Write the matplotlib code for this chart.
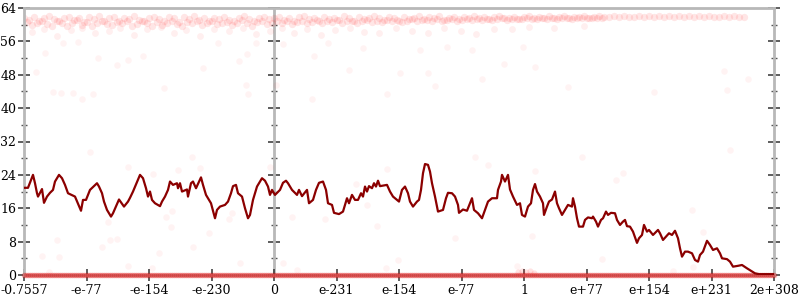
import numpy as np
import matplotlib
matplotlib.use("Agg")
import matplotlib.pyplot as plt

# x axis is sample position (0..750), labelled with float ranges
tick_pos = np.arange(13) * 62.5
tick_labels = ["-0.7557", "-e-77", "-e-154", "-e-230", "0", "e-231", "e-154",
               "e-77", "1", "e+77", "e+154", "e+231", "2e+308"]
y_ticks = [0, 8, 16, 24, 32, 40, 48, 56, 64]

# running average (dark line)
line_x = [0, 4, 9, 11, 13, 14, 18, 20, 23, 26, 29, 31, 35, 38, 41, 44, 51, 57, 59, 62,
          66, 73, 75, 78, 80, 83, 87, 89, 95, 100, 104, 106, 109, 116, 119, 122, 124, 126,
          128, 131, 136, 138, 141, 144, 146, 149, 153, 154, 156, 158, 163, 164, 167, 169,
          172, 177, 179, 182, 187, 191, 193, 196, 201, 204, 207, 209, 212, 214, 218, 221,
          224, 226, 229, 233, 238, 241, 244, 246, 248, 250,
          251, 256, 259, 262, 264, 268, 273, 275, 278, 283, 285, 289, 292, 295, 299, 302,
          304, 308, 310, 315, 319, 321, 323, 325, 328, 331, 334, 337, 339, 341, 343, 345,
          348, 350, 352, 354, 356, 363, 366, 369, 375,
          378, 381, 384, 386, 389, 393, 395, 397, 399, 401, 404, 406, 408, 411, 414, 419,
          422, 424, 428, 431, 434, 435, 439, 443, 446, 448, 450, 454, 458, 461, 464, 468,
          473, 474, 477, 478, 481, 484, 486, 489, 493, 496, 498, 501,
          504, 507, 509, 511, 513, 516, 519, 520, 523, 525, 528, 531, 533, 535, 538, 541,
          544, 548, 549, 551, 553, 555, 559, 561, 564, 568, 569, 572, 574, 577, 579, 582,
          584, 587, 591, 593, 596, 599, 601, 603, 606, 609, 613, 615, 618, 620, 623, 625,
          629, 634, 636, 639, 642, 645, 648, 651, 654, 656, 658, 661, 664, 668, 671, 674,
          676, 679, 683, 686, 689, 693, 696, 698, 703, 706, 709, 714, 718, 723, 727, 731,
          735, 750]
line_y = [20.9, 20.9, 24.0, 22.0, 19.6, 18.8, 20.6, 17.3, 18.8, 19.7, 20.4, 22.4, 24.0, 23.2,
          21.6, 19.6, 18.8, 15.4, 18.0, 18.0, 20.4, 22.0, 21.2, 19.6, 17.6, 15.6, 14.0, 14.8,
          18.1, 16.4, 17.6, 18.5, 20.0, 24.0, 23.2, 20.8, 18.8, 20.0,
          18.0, 17.2, 16.5, 17.6, 18.8, 20.4, 22.4, 21.6, 22.0, 20.8, 22.0, 20.0, 20.5, 18.8,
          22.0, 22.4, 20.8, 23.4, 21.6, 19.2, 17.2, 13.6, 15.6, 16.4, 16.8, 17.6, 19.6, 21.3,
          21.6, 19.6, 18.8, 16.0, 13.6, 14.4, 18.0, 21.2, 23.2, 22.6, 21.2, 19.2, 20.4, 19.6,
          19.2, 20.4, 22.1, 22.6, 22.0, 20.4, 19.2, 20.4, 18.9, 20.4, 17.2, 18.0, 20.4, 22.1,
          22.4, 20.4, 17.2, 16.8, 14.9, 14.6, 15.2, 16.8, 18.4, 17.2, 19.2, 18.0, 18.0, 19.6,
          18.8, 21.2, 20.0, 21.3, 20.8, 22.0, 21.2, 22.6, 21.3, 21.6, 20.0, 18.8, 17.6,
          20.4, 21.2, 19.6, 17.6, 16.4, 17.6, 18.0, 20.4, 24.4, 26.6, 26.4, 24.8, 22.0, 18.8,
          15.2, 15.6, 18.4, 19.7, 19.6, 18.8, 16.8, 14.9, 15.7, 15.4, 17.2, 18.4, 15.6, 14.8,
          13.6, 15.6, 17.6, 18.4, 18.4, 20.4, 22.4, 24.0, 22.4, 24.0, 20.5, 18.8, 16.8, 17.2,
          14.4, 14.0,
          16.4, 17.2, 20.4, 21.8, 20.0, 18.8, 17.2, 14.4, 16.4, 17.6, 18.1, 20.0, 17.2, 16.0,
          14.4, 15.6, 16.8, 16.4, 18.4, 16.4, 13.6, 11.6, 11.6, 13.2, 13.8, 13.6, 14.0, 12.8,
          11.6, 13.2, 13.6, 15.2, 14.4, 14.9, 14.8, 13.2, 12.0, 12.8, 13.2, 11.7, 11.6, 10.4,
          7.7, 8.8, 9.6, 12.0, 10.4, 10.8,
          9.6, 10.8, 10.0, 8.4, 9.2, 10.0, 9.6, 10.6, 8.8, 6.4, 4.4, 5.6, 5.6, 5.2, 3.6, 3.2,
          4.8, 5.6, 8.2, 7.2, 6.0, 6.4, 5.2, 4.0, 3.8, 3.2, 2.0, 2.2, 2.4, 1.6, 1.0, 0.4,
          0.2, 0.2]

# dense band of samples near the top
band_top = [61.6, 61.2, 61.8, 60.9, 61.5, 62.0, 61.3, 60.8, 61.7, 61.9,
            61.1, 61.6, 60.7, 61.8, 61.4, 62.1, 61.0, 61.5, 61.9, 60.9,
            61.7, 61.3, 62.0, 61.2, 60.8, 61.6, 61.9, 61.4, 61.0, 61.8,
            61.5, 60.7, 61.9, 61.3, 62.0, 61.1, 61.6, 60.9, 61.7, 61.4,
            61.8, 61.2, 60.8, 61.6, 62.1, 61.4, 61.0, 61.7, 61.9, 61.3,
            61.7, 61.9, 61.2, 61.6, 60.9, 61.8, 62.0, 61.3, 61.5, 61.0,
            61.9, 61.4, 61.7, 61.1, 62.0, 61.6, 60.9, 61.8, 61.3, 61.7,
            62.0, 61.5, 61.2, 61.8, 61.6, 61.0, 61.9, 61.4, 61.7, 62.1,
            61.3, 61.8, 61.6, 62.0, 61.2, 61.7, 61.9, 61.4, 61.8, 61.5,
            62.0, 61.6, 61.9, 61.3, 61.8, 62.1, 61.5, 61.7, 61.9, 61.4,
            61.8, 62.0, 61.6, 61.9, 61.7, 62.1, 61.5, 61.8, 62.0, 61.7,
            61.9, 61.8, 62.1, 61.7, 61.9, 62.0, 61.8, 61.9, 62.1, 61.8,
            62.0, 61.9, 61.8, 62.1, 61.9, 62.0, 61.8, 62.0, 61.9, 62.1,
            61.9, 62.0, 61.8, 62.0, 61.9, 62.1, 61.9, 62.0, 61.8, 61.9,
            62.0, 61.9, 62.0, 61.9, 61.9]
band_mid = [60.6, 59.9, 60.4, 61.0, 60.2, 59.6, 60.8, 60.3, 59.8, 60.5,
            61.1, 60.0, 60.7, 59.7, 60.4, 60.9, 60.1, 59.9, 60.6, 60.3,
            60.8, 59.6, 60.2, 61.0, 60.5, 59.8, 60.7, 60.0, 60.4, 60.9,
            60.2, 59.7, 60.6, 60.3, 61.0, 59.9, 60.5, 60.8, 60.1, 60.4,
            60.7, 60.0, 60.5, 61.1, 60.3, 59.8, 60.6, 60.9, 60.2, 60.5,
            60.8, 60.4, 61.0, 60.1, 60.6, 60.9, 60.3, 60.7, 61.1, 60.5,
            60.9, 60.6, 61.2, 60.4, 60.8, 61.0, 60.5, 60.9, 61.1, 60.7,
            61.0, 60.6, 61.2, 60.8, 61.1, 60.7, 61.0, 61.3, 60.9, 61.1,
            61.2, 60.9, 61.3, 61.0, 61.2, 61.4, 61.0, 61.2, 61.3, 61.1,
            61.3, 61.1, 61.4, 61.2, 61.3, 61.5, 61.2, 61.4, 61.3, 61.4,
            61.5, 61.3, 61.4, 61.6, 61.4, 61.5, 61.3, 61.6, 61.5, 61.4,
            61.6, 61.5, 61.7, 61.5, 61.6, 61.7]
fringe_x = [8, 20, 33, 47, 58, 71, 85, 96, 110, 123, 137, 150, 162, 176, 190, 205, 219,
            232, 246, 258, 270, 283, 297, 311, 326, 340, 355, 372, 388, 404, 420, 437,
            452, 470, 488, 505, 530, 560]
fringe_y = [58.2, 59.0, 57.4, 58.8, 59.3, 57.9, 58.5, 59.1, 57.6, 58.9, 59.4, 58.0, 58.7,
            57.2, 59.0, 58.4, 59.2, 57.8, 58.6, 59.3, 58.1, 59.0, 57.5, 58.8, 59.2, 58.3,
            57.9, 59.1, 58.6, 58.0, 59.3, 58.5, 57.7, 59.0, 58.9, 59.4, 59.2, 59.6]

# scattered outliers
out_x = [21, 12, 74, 93, 104, 119, 179, 215, 223, 29, 37, 49, 69, 58, 140, 222, 224, 39,
         54, 194, 232, 259, 290, 325, 376, 404, 411, 363, 288, 458, 480, 511, 252, 304,
         339, 396, 423, 448, 499, 700, 724, 544, 630, 703,
         66, 104, 129, 168, 176, 154, 246, 33, 18, 35, 25, 78, 86, 93, 104, 135, 142, 148,
         147, 169, 185, 205, 208, 216, 128, 84,
         268, 301, 353, 363, 332, 343, 374, 362, 431, 451, 464, 511, 508, 493, 259, 273,
         558, 599, 592, 668, 679, 578, 706, 669, 649]
out_y = [53.2, 48.7, 52.0, 50.3, 51.5, 52.5, 49.6, 51.3, 53.0, 43.9, 43.6, 43.6, 43.4,
         42.2, 44.8, 45.5, 43.4, 55.6, 55.9, 55.6, 55.6, 55.4, 52.5, 49.1, 48.4, 48.4,
         45.3, 43.4, 42.2, 47.0, 50.6, 49.9, 45.5, 55.6, 54.4, 53.9, 54.6, 53.9, 54.6,
         48.9, 47.0, 45.1, 43.9, 44.3,
         29.5, 25.9, 24.2, 28.3, 25.6, 25.2, 25.9, 8.4, 4.6, 4.3, 0.7, 6.7, 8.4, 8.6, 2.2,
         5.3, 13.9, 15.3, 11.5, 6.7, 10.1, 13.4, 14.9, 2.9, 1.7, 12.7,
         13.9, 13.4, 11.7, 25.4, 21.8, 16.8, 3.6, 1.7, 8.9, 28.3, 26.4, 24.9, 9.3, 2.2,
         2.9, 1.2, 28.3, 24.4, 22.8, 15.6, 10.3, 3.8, 30.0, 1.9, 1.0]

# samples at zero, plus a few just above zero near "1"
zero_x = np.arange(0, 751, 2)
near_zero_x = [494, 498, 502, 506, 510]
near_zero_y = [0.6, 0.9, 0.7, 1.0, 0.5]

plt.rcParams["font.family"] = "DejaVu Serif"

fig = plt.figure(figsize=(8, 3), dpi=100)
ax = fig.add_axes([24 / 800, 25 / 300, 750 / 800, 267 / 300])

dot = "#ff2020"
ax.scatter(np.arange(len(band_top)) * 5, band_top, s=28, color=dot, alpha=0.11,
           linewidths=0, zorder=2)
ax.scatter(np.arange(len(band_mid)) * 5 + 2.5, band_mid, s=28, color=dot, alpha=0.11,
           linewidths=0, zorder=2)
ax.scatter(fringe_x, fringe_y, s=24, color=dot, alpha=0.07, linewidths=0, zorder=2)
ax.scatter(out_x, out_y, s=22, color=dot, alpha=0.05, linewidths=0, zorder=2)
ax.scatter(zero_x, np.zeros(len(zero_x)), s=16, color="#e01818", alpha=0.35,
           linewidths=0, zorder=4, clip_on=False)
ax.scatter(near_zero_x, near_zero_y, s=20, color=dot, alpha=0.12, linewidths=0, zorder=4)

ax.plot(line_x, line_y, color="#8b0000", lw=1.6, zorder=5)

ax.set_xlim(0, 750)
ax.set_ylim(0, 64)
ax.set_xticks(tick_pos)
ax.set_xticklabels(tick_labels)
ax.set_yticks(y_ticks)
ax.set_yticks(np.arange(4, 64, 8), minor=True)

gray = "#b8b8b8"
for side in ["left", "right", "top", "bottom"]:
    ax.spines[side].set_color(gray)
    ax.spines[side].set_linewidth(2)
ax.axvline(250, color=gray, lw=2, zorder=1)

ax.tick_params(axis="both", which="major", direction="inout", length=9, width=1.1,
               color="#333333", labelsize=9, pad=1)
ax.tick_params(axis="y", which="minor", direction="inout", length=5, width=1,
               color="#555555")
ax.tick_params(axis="y", which="both", right=True)
ax.tick_params(axis="x", which="major", top=False, pad=2)

mid = ax.secondary_yaxis(1 / 3)
mid.set_yticks(y_ticks)
mid.set_yticks(np.arange(4, 64, 8), minor=True)
mid.set_yticklabels([])
mid.spines["right"].set_visible(False)
mid.spines["left"].set_visible(False)
mid.tick_params(which="major", direction="inout", length=9, width=1.1, color="#333333")
mid.tick_params(which="minor", direction="inout", length=5, width=1, color="#555555")

fig.savefig("out.png", dpi=100)
